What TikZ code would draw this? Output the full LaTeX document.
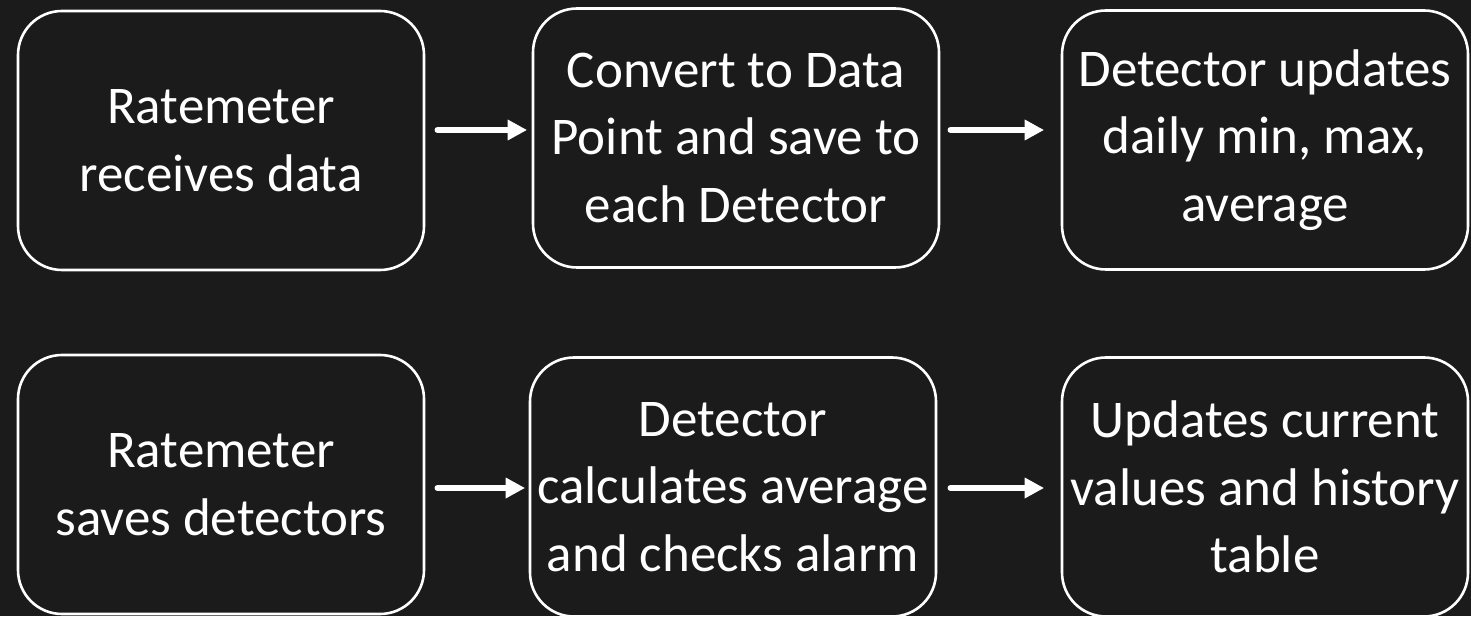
\documentclass[tikz,border=0pt]{standalone}
\usepackage{fontspec}
\setmainfont{Carlito}
\usetikzlibrary{arrows.meta}
\definecolor{bgc}{HTML}{1B1B1B}
\begin{document}
\begin{tikzpicture}[x=1pt,y=1pt,
  box/.style={draw=white,line width=2.6pt,rounded corners=44pt,minimum width=406pt,minimum height=259pt,
    align=center,text=white,font=\fontsize{53}{67.5}\selectfont,inner sep=0pt},
  conn/.style={draw=white,line width=5.5pt,line cap=round,-{Triangle[length=19pt,width=21pt,line width=0pt]}}]
\fill[bgc] (0,0) rectangle (1471,616);
\useasboundingbox (0,0) rectangle (1471,616);
\node[box] (b1) at (221,475.5) {Ratemeter\\receives data};
\node[box] (b2) at (736,478) {Convert to Data\\Point and save to\\each Detector};
\node[box] (b3) at (1265,476) {Detector updates\\daily min, max,\\average};
\node[box] (b4) at (221,131.5) {Ratemeter\\saves detectors};
\node[box] (b5) at (733,129) {Detector\\calculates average\\and checks alarm};
\node[box] (b6) at (1265,129) {Updates current\\values and history\\table};
\draw[conn,shorten <=12pt,shorten >=5pt] ([yshift=10.5pt]b1.east) -- ([yshift=8pt]b2.west);
\draw[conn,shorten <=10pt,shorten >=17pt] ([yshift=8pt]b2.east) -- ([yshift=10pt]b3.west);
\draw[conn,shorten <=12pt,shorten >=4pt] ([yshift=-3.5pt]b4.east) -- ([yshift=-1pt]b5.west);
\draw[conn,shorten <=13pt,shorten >=17pt] ([yshift=-1pt]b5.east) -- ([yshift=-1pt]b6.west);
\end{tikzpicture}
\end{document}
